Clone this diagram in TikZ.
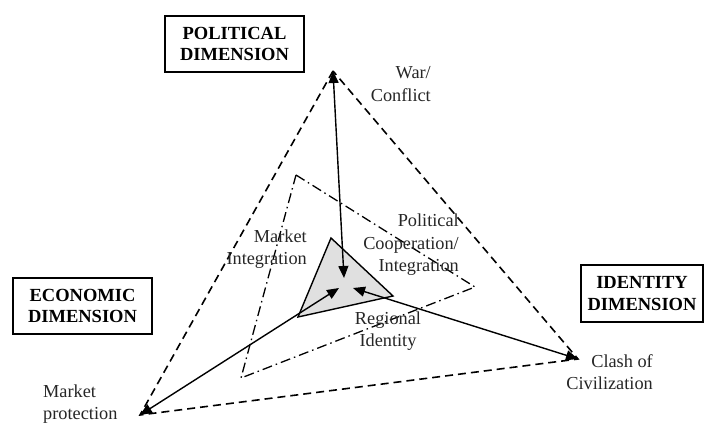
\documentclass[tikz,border=0pt]{standalone}
\usepackage{fontspec}
\setmainfont{Liberation Serif}
\usetikzlibrary{arrows.meta}
\begin{document}
\begin{tikzpicture}[x=1pt,y=-1pt,
  dimbox/.style={draw,line width=1.4pt,font=\fontsize{18.5}{21.5}\selectfont\bfseries,align=center,inner sep=0pt},
  lbl/.style={font=\fontsize{18.3}{22.5}\selectfont,text=black!85,inner sep=0pt},
  outer/.style={dash pattern=on 8pt off 5pt,line width=1.6pt},
  mid/.style={dash pattern=on 10pt off 4pt on 1.5pt off 4pt,line width=1.3pt},
  link/.style={line width=1.4pt,{Triangle[length=12pt,width=10pt]}-{Triangle[length=12pt,width=10pt]}},
  pt/.style={inner sep=0pt,minimum size=0pt}]
\useasboundingbox (0,0) rectangle (707,425);
% outer triangle vertices
\coordinate (T) at (333,71);
\coordinate (L) at (140,415);
\coordinate (R) at (578,359);
\draw[outer] (T) -- (L) -- (R) -- cycle;
% dash-dot triangle
\coordinate (mA) at (296,175);
\coordinate (mB) at (475,287);
\coordinate (mC) at (241,378);
\draw[mid] (mA) -- (mB) -- (mC) -- cycle;
% gray triangle
\coordinate (gA) at (331,238);
\coordinate (gB) at (393,296);
\coordinate (gC) at (298,317);
\draw[fill=black!12,line width=1.4pt] (gA) -- (gB) -- (gC) -- cycle;
% centre targets
\coordinate (cT) at (344,278);
\coordinate (cL) at (339,288);
\coordinate (cR) at (353,288);
\draw[link] (T) -- (cT);
\draw[link] (L) -- (cL);
\draw[link] (R) -- (cR);
% boxes
\node[dimbox,minimum width=139pt,minimum height=56pt] (pol) at (234.5,44) {POLITICAL\\DIMENSION};
\node[dimbox,minimum width=139pt,minimum height=56pt] (eco) at (82.5,306) {ECONOMIC\\DIMENSION};
\node[dimbox,minimum width=122pt,minimum height=57pt] (ide) at (642,293.5) {IDENTITY\\DIMENSION};
% labels
\node[lbl,align=right,anchor=east] (war) at (431,84) {War/\\Conflict};
\node[lbl,align=right,anchor=east] (mi) at (307,249) {Market\\Integration};
\node[lbl,align=right,anchor=east] (pc) at (459,245) {Political\\Cooperation/\\Integration};
\node[lbl,align=center] (ri) at (388,331) {Regional\\Identity};
\node[lbl,align=left,anchor=west] (mp) at (43,404) {Market\\protection};
\node[lbl,align=right,anchor=east] (cc) at (653,372) {Clash of\\Civilization};
\end{tikzpicture}
\end{document}
